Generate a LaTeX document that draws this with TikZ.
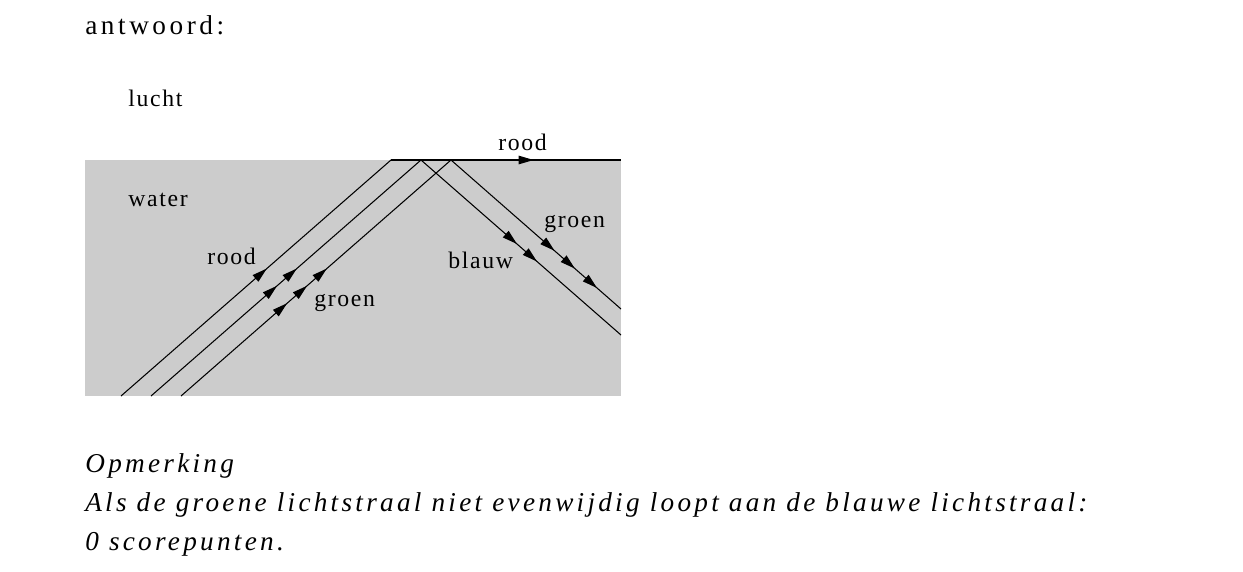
\documentclass[tikz,border=0pt]{standalone}
\usepackage{fontspec}
\setmainfont{Liberation Serif}
\usetikzlibrary{arrows.meta, decorations.markings}

\begin{document}
\begin{tikzpicture}[
    x=0.02cm, y=-0.02cm,
    >={Triangle[length=0.3cm, width=0.17cm]},
    label/.style={font=\fontsize{13.5}{16}\selectfont\addfontfeature{LetterSpace=7}, inner sep=0pt, anchor=base west},
    note/.style={font=\fontsize{15.5}{19}\selectfont\itshape\addfontfeature{LetterSpace=12}, inner sep=0pt, anchor=base west},
    ray/.style={draw, line width=0.6pt},
    tips/.style={decorate, decoration={markings, #1}},
]
\useasboundingbox (0,0) rectangle (1243,571);

% Water
\fill[black!20] (85,160) rectangle (621,396);

% Points of the rays
\coordinate (r1a) at (121,396); \coordinate (r1b) at (391,160);
\coordinate (r2a) at (151,396); \coordinate (r2b) at (421,160);
\coordinate (r3a) at (181,396); \coordinate (r3b) at (451,160);
\coordinate (red) at (621,160);
\coordinate (blue) at (621,335);
\coordinate (green) at (621,309);

% Incoming rays
\draw[ray, postaction={tips={mark=at position 0.54 with {\arrow{>}}}}] (r1a) -- (r1b);
\draw[ray, postaction={tips={mark=at position 0.467 with {\arrow{>}}, mark=at position 0.54 with {\arrow{>}}}}] (r2a) -- (r2b);
\draw[ray, postaction={tips={mark=at position 0.393 with {\arrow{>}}, mark=at position 0.467 with {\arrow{>}}, mark=at position 0.54 with {\arrow{>}}}}] (r3a) -- (r3b);

% Outgoing rays
\draw[ray, postaction={tips={mark=at position 0.62 with {\arrow{>}}}}] (r1b) -- (red);
\draw[ray, postaction={tips={mark=at position 0.48 with {\arrow{>}}, mark=at position 0.58 with {\arrow{>}}}}] (r2b) -- (blue);
\draw[ray, postaction={tips={mark=at position 0.61 with {\arrow{>}}, mark=at position 0.73 with {\arrow{>}}, mark=at position 0.86 with {\arrow{>}}}}] (r3b) -- (green);

% Labels
\node[label, font=\fontsize{15.5}{19}\selectfont\addfontfeature{LetterSpace=13}] (answer) at (85,35) {antwoord:};
\node[label] (air) at (128,107) {lucht};
\node[label] (rood1) at (498,150) {rood};
\node[label] (water) at (128,206) {water};
\node[label] (rood2) at (207,264) {rood};
\node[label] (groen1) at (314,306) {groen};
\node[label] (blauw) at (448,268) {blauw};
\node[label] (groen2) at (544,227) {groen};

\node[note] (rem) at (85,472) {Opmerking};
\node[note] (rem2) at (85,511) {Als de groene lichtstraal niet evenwijdig loopt aan de blauwe lichtstraal:};
\node[note] (rem3) at (85,550) {0 scorepunten.};
\end{tikzpicture}
\end{document}
